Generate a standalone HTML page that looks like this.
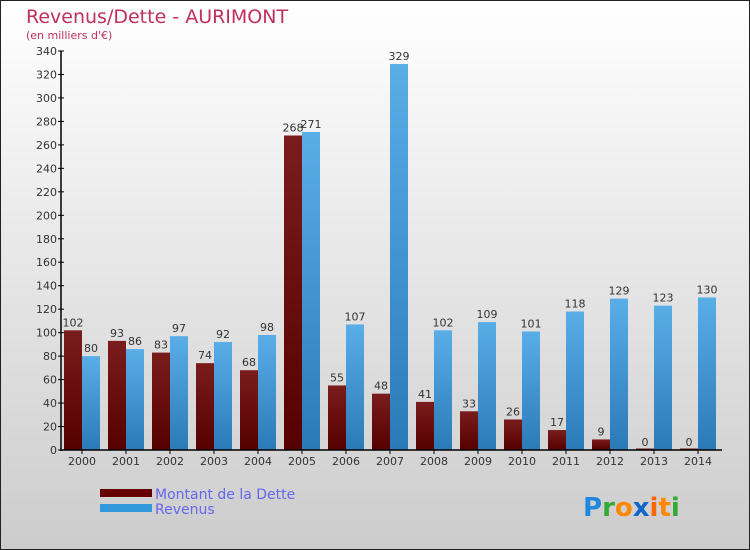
<!DOCTYPE html>
<html><head><meta charset="utf-8"><style>
body{margin:0}
#c{width:750px;height:550px;position:relative;overflow:hidden;font-family:"DejaVu Sans","Liberation Sans",sans-serif}
</style></head><body>
<div id="c">
<svg width="750" height="550" xmlns="http://www.w3.org/2000/svg" id="svg">
<defs>
<linearGradient id="bg" x1="0" y1="0" x2="0" y2="1"><stop offset="0" stop-color="#ffffff"/><stop offset="1" stop-color="#cccccc"/></linearGradient>
<linearGradient id="gd" x1="0" y1="0" x2="0" y2="1"><stop offset="0" stop-color="#7a1c1c"/><stop offset="1" stop-color="#560000"/></linearGradient>
<linearGradient id="gr" x1="0" y1="0" x2="0" y2="1"><stop offset="0" stop-color="#5aaee8"/><stop offset="1" stop-color="#2a7ab8"/></linearGradient>
</defs>
<rect x="0.5" y="0.5" width="749" height="549" fill="url(#bg)" stroke="#222"/>
<text x="26" y="23" font-size="19" fill="#c0305a">Revenus/Dette - AURIMONT</text>
<text x="26" y="39" font-size="11" fill="#c0305a">(en milliers d'€)</text>
<g id="plot"></g>
<rect x="100" y="489" width="52" height="8" fill="#660000"/>
<rect x="100" y="504" width="52" height="8" fill="#3399dd"/>
<text x="155" y="499" font-size="14" fill="#6666ee">Montant de la Dette</text>
<text x="155" y="514" font-size="14" fill="#6666ee">Revenus</text>
<text x="583" y="516" font-size="26" font-weight="bold"><tspan fill="#2288dd">P</tspan><tspan fill="#33aa33">r</tspan><tspan fill="#ff8800">o</tspan><tspan fill="#1166cc">x</tspan><tspan fill="#ff6600">i</tspan><tspan fill="#ff8800">t</tspan><tspan fill="#33aa33">i</tspan></text>
</svg>
</div>
<script>
const years=["2000","2001","2002","2003","2004","2005","2006","2007","2008","2009","2010","2011","2012","2013","2014"];
const dette=[102,93,83,74,68,268,55,48,41,33,26,17,9,0,0];
const revenus=[80,86,97,92,98,271,107,329,102,109,101,118,129,123,130];
const yTicks=[0,20,40,60,80,100,120,140,160,180,200,220,240,260,280,300,320,340];
const NS="http://www.w3.org/2000/svg";
const g=document.getElementById('plot');
const x0=62,gw=44,y0=450,k=399/340;
const Y=v=>y0-v*k;
function mk(t,a,txt){const e=document.createElementNS(NS,t);for(const n in a)e.setAttribute(n,a[n]);if(txt!==undefined)e.textContent=txt;g.appendChild(e);return e;}
yTicks.forEach(v=>{
 const l=mk('line',{x1:58,x2:64,y1:Y(v),y2:Y(v),stroke:'#000'});
 
 
 const t=mk('text',{x:57,y:Y(v)+4,'font-size':11,fill:'#333','text-anchor':'end'},v);
 
 
});
years.forEach((yr,i)=>{
 const c=x0+gw*i+20;
 const hd=Math.max(dette[i]*k,1.5);
 const b1=mk('rect',{x:c-18,y:y0-hd,width:18,height:hd,fill:'url(#gd)'});
 
 
 const hr=revenus[i]*k;
 const b2=mk('rect',{x:c,y:y0-hr,width:18,height:hr,fill:'url(#gr)'});
 
 
 const t1=mk('text',{x:c-9,y:Y(dette[i])-4,'font-size':11,fill:'#333','text-anchor':'middle'},dette[i]);
 
 
 const t2=mk('text',{x:c+9,y:Y(revenus[i])-4,'font-size':11,fill:'#333','text-anchor':'middle'},revenus[i]);
 
 
 const tk=mk('line',{x1:c,x2:c,y1:y0,y2:y0+4,stroke:'#000'});
 
 
 const xl=mk('text',{x:c,y:465,'font-size':11,fill:'#333','text-anchor':'middle'},yr);
 
 
});
const ya=mk('line',{x1:61,x2:61,y1:Y(340),y2:y0+1,stroke:'#000','stroke-width':1.5});


const xa=mk('line',{x1:61,x2:722,y1:y0,y2:y0,stroke:'#000','stroke-width':1.5});


</script>
</body></html>
